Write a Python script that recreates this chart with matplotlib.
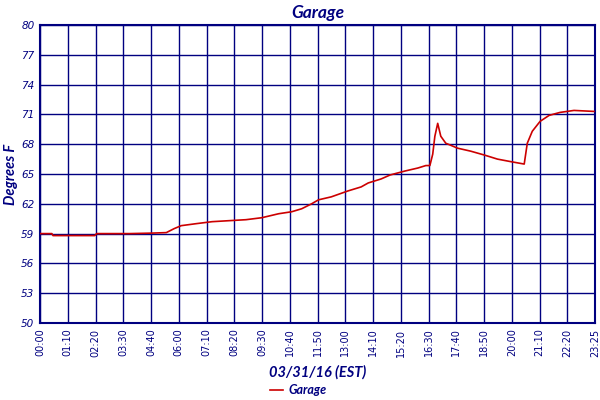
import numpy as np
import matplotlib
matplotlib.use('Agg')
import matplotlib.pyplot as plt

# time of day (hours) and temperature (deg F)
hours = [0.0, 0.50, 0.55, 2.31, 2.39, 3.78, 4.74, 5.33, 5.66, 5.96,
         6.59, 7.26, 7.97, 8.69, 9.36, 10.07, 10.62, 11.04, 11.46, 11.75,
         12.29, 13.00, 13.55, 13.85, 14.39, 14.77, 15.40, 15.94, 16.28, 16.45,
         16.57, 16.66, 16.78, 16.91, 17.12, 17.62, 18.17, 18.76, 19.30, 19.85,
         20.43, 20.56, 20.77, 21.10, 21.48, 21.94, 22.53, 22.95, 23.37]
temps = [59.0, 59.0, 58.8, 58.8, 59.0, 59.0, 59.05, 59.1, 59.5, 59.8,
         60.0, 60.2, 60.3, 60.4, 60.6, 61.0, 61.2, 61.5, 62.0, 62.4,
         62.7, 63.3, 63.7, 64.1, 64.5, 64.9, 65.3, 65.6, 65.85, 65.85,
         67.0, 68.8, 70.1, 68.8, 68.1, 67.6, 67.3, 66.9, 66.5, 66.25,
         66.0, 68.1, 69.3, 70.3, 70.9, 71.2, 71.4, 71.35, 71.3]

xlabels = ['00:00', '01:10', '02:20', '03:30', '04:40', '06:00', '07:10',
           '08:20', '09:30', '10:40', '11:50', '13:00', '14:10', '15:20',
           '16:30', '17:40', '18:50', '20:00', '21:10', '22:20', '23:25']
yticks = [50, 53, 56, 59, 62, 65, 68, 71, 74, 77, 80]

navy = '#000080'
x_end = 23 + 25 / 60.0
hfont = ['Lato', 'DejaVu Sans']

fig = plt.figure(figsize=(6, 4), dpi=100)
ax = fig.add_axes([40 / 600, 1 - 323 / 400, 555 / 600, 298 / 400])

ax.plot(hours, temps, color='#cc0000', lw=1.2, label='Garage', zorder=3)

ax.set_xlim(0, x_end)
ax.set_ylim(50, 80)
ax.set_xticks(np.linspace(0, x_end, len(xlabels)))
ax.set_xticklabels(xlabels, rotation=90, fontsize=7, color=navy)
ax.set_yticks(yticks)
ax.set_yticklabels([str(v) for v in yticks], fontsize=7.5, color=navy,
                   style='italic')
ax.tick_params(length=0, pad=4)
ax.grid(True, color=navy, lw=1)
ax.set_axisbelow(True)
for s in ax.spines.values():
    s.set_color(navy)
    s.set_linewidth(1.5)

ax.set_title('Garage', fontsize=12.5, fontweight='bold', style='italic',
             color=navy, pad=5, family=hfont)
ax.set_ylabel('Degrees F', fontsize=10.5, fontweight='bold', style='italic',
              color=navy, labelpad=2, family=hfont)
ax.set_xlabel('03/31/16 (EST)', fontsize=10.5, fontweight='bold',
              style='italic', color=navy, labelpad=6, family=hfont)

leg = fig.legend(loc='center', bbox_to_anchor=(0.497, 1 - 390 / 400),
                 frameon=False, fontsize=9, handlelength=1.1,
                 handletextpad=0.4)
for t in leg.get_texts():
    t.set_color(navy)
    t.set_fontweight('bold')
    t.set_fontstyle('italic')
    t.set_family(hfont)

fig.savefig('out.png', dpi=100)
